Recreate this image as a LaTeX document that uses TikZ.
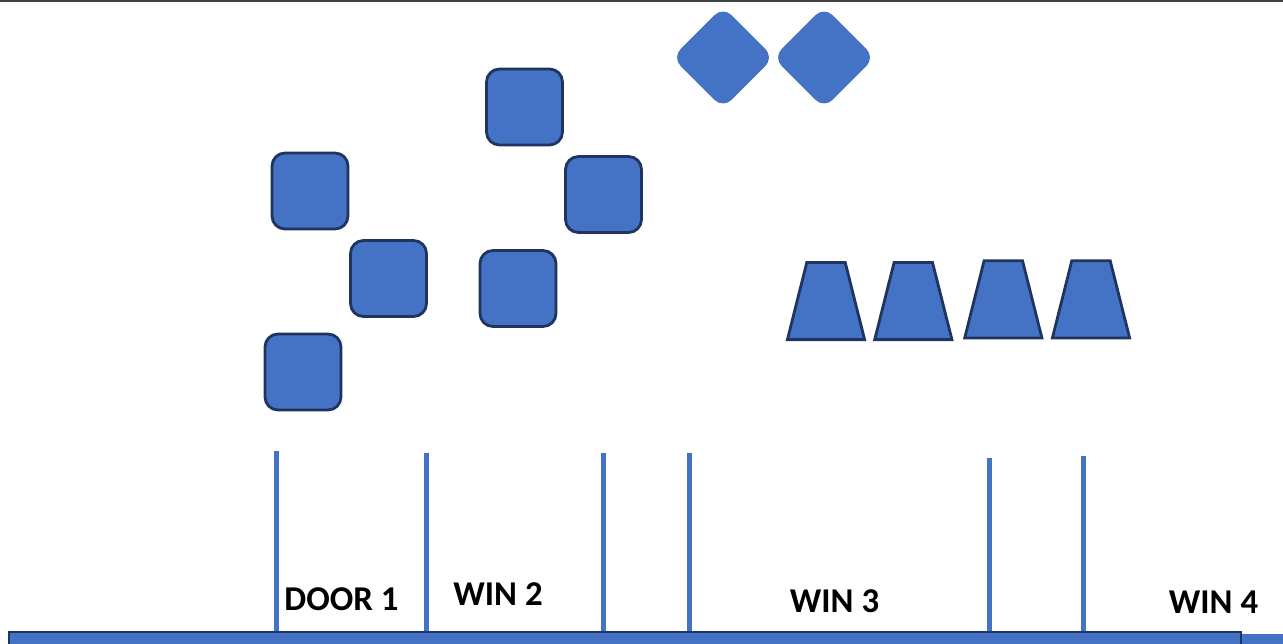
\documentclass[tikz,border=0pt]{standalone}
\usepackage{fontspec}
\setmainfont{Carlito}
\usepackage{xcolor}
\usepackage{tikz}
\usetikzlibrary{positioning}
\definecolor{wallblue}{HTML}{4472C4}
\definecolor{edgenavy}{HTML}{1F3560}

\begin{document}
\begin{tikzpicture}[
    x=0.5pt,y=-0.5pt,
    node distance=4pt,
    block/.style={
        % The shape:
        rectangle,
        rounded corners=6.5pt,
        minimum size=38pt,
        inner sep=0pt,
        % The fill
        fill=wallblue,
        draw=edgenavy,
        line width=1.4pt},
    tip/.style={
        rectangle,
        rounded corners=6pt,
        rotate=45,
        minimum size=36pt,
        inner sep=0pt,
        fill=wallblue},
    bucket/.style={
        fill=wallblue,
        draw=edgenavy,
        line width=1.4pt,
        line join=miter},
    post/.style={draw=wallblue, line width=2.5pt},
    tag/.style={
        inner sep=0pt,
        anchor=base,
        % The fonts
        font=\fontsize{17.4}{20}\selectfont\bfseries}
  ]
  \clip (0,0) rectangle (1283,643);
  \draw [black!75, line width=0.75pt] (0,0.75) -- (1283,0.75);%上边线

  % squares
  \node (sq1) [block] at (310,191) {};
  \node (sq2) [block] at (388.5,278.5) {};
  \node (sq3) [block] at (303,372) {};
  \node (sq4) [block] at (524.5,107) {};
  \node (sq5) [block] at (603.5,194.5) {};
  \node (sq6) [block] at (518,288.5) {};

  % diamonds
  \node (dm1) [tip] at (723,57.5) {};
  \node (dm2) [tip] at (824,57.5) {};

  % trapezia
  \coordinate (tr1) at (826,301);
  \coordinate (tr2) at (913.3,301);
  \coordinate (tr3) at (1003.3,299.3);
  \coordinate (tr4) at (1091,299.3);
  \draw [bucket] (tr1) +(-38.6,38.6) -- +(-19.2,-38.6) -- +(19.2,-38.6) -- +(38.6,38.6) -- cycle;
  \draw [bucket] (tr2) +(-38.6,38.6) -- +(-19.2,-38.6) -- +(19.2,-38.6) -- +(38.6,38.6) -- cycle;
  \draw [bucket] (tr3) +(-38.6,38.6) -- +(-19.2,-38.6) -- +(19.2,-38.6) -- +(38.6,38.6) -- cycle;
  \draw [bucket] (tr4) +(-38.6,38.6) -- +(-19.2,-38.6) -- +(19.2,-38.6) -- +(38.6,38.6) -- cycle;

  % wall
  \coordinate (w1) at (276,451);
  \coordinate (w2) at (426,453);
  \coordinate (w3) at (603,453);
  \coordinate (w4) at (689,453);
  \coordinate (w5) at (989,458);
  \coordinate (w6) at (1083,456);
  \draw [post] (w1) -- (w1 |- 0,633);
  \draw [post] (w2) -- (w2 |- 0,633);
  \draw [post] (w3) -- (w3 |- 0,633);
  \draw [post] (w4) -- (w4 |- 0,633);
  \draw [post] (w5) -- (w5 |- 0,633);
  \draw [post] (w6) -- (w6 |- 0,633);
  \draw [fill=wallblue, draw=edgenavy, line width=1pt] (9,632) rectangle (1241,660);
  \fill [wallblue] (1242,634) rectangle (1290,660);

  % names
  \node (door1) [tag] at (341.5,610) {DOOR 1};
  \node (win2) [tag] at (498,605) {WIN 2};
  \node (win3) [tag] at (834.5,612.3) {WIN 3};
  \node (win4) [tag] at (1213.5,613.3) {WIN 4};
\end{tikzpicture}
\end{document}
